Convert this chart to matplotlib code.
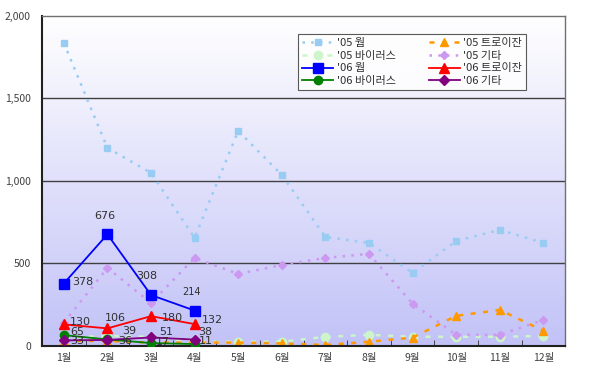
import numpy as np
import matplotlib
matplotlib.use("Agg")
import matplotlib.pyplot as plt

plt.rcParams['font.family'] = ['Noto Sans CJK KR', 'DejaVu Sans']

# months
months = ["1월", "2월", "3월", "4월", "5월", "6월", "7월", "8월", "9월", "10월", "11월", "12월"]

# 2005 series (full year)
worm_05 = [1836, 1200, 1048, 655, 1303, 1036, 660, 624, 442, 636, 703, 624]
trojan_05 = [30, 30, 20, 20, 20, 15, 5, 25, 50, 182, 218, 91]
virus_05 = [50, 60, 55, 25, 25, 25, 55, 67, 55, 55, 55, 60]
etc_05 = [140, 473, 260, 533, 436, 490, 533, 558, 255, 67, 67, 157]

# 2006 series (Jan - Apr)
worm_06 = [378, 676, 308, 214]
trojan_06 = [130, 106, 180, 132]
virus_06 = [65, 39, 17, 11]
etc_06 = [33, 36, 51, 38]

x_all = np.arange(1, 13)
x_06 = np.arange(1, 5)

fig = plt.figure(figsize=(6, 3.78), dpi=100)
ax = fig.add_axes([0.07, 0.085, 0.872, 0.873])

# gradient background
grad = np.linspace(0, 1, 256).reshape(-1, 1)
top = np.array([1.0, 1.0, 1.0])
bot = np.array([0.76, 0.76, 0.97])
img = top + (bot - top) * grad[:, :, None]
ax.imshow(img, extent=[0, 1, 0, 1], transform=ax.transAxes, aspect='auto', zorder=0)

for y in [500, 1000, 1500]:
    ax.axhline(y, color='#404040', lw=1.0, zorder=1)

ms = 5
ax.plot(x_all, worm_05, ls=(0, (1, 2.5)), lw=1.8, color='#99ccf2', marker='s', ms=ms,
        label="'05 웜", zorder=2)
ax.plot(x_all, virus_05, ls=(0, (2, 3)), lw=1.8, color='#ccf5cc', marker='o', ms=ms + 1,
        label="'05 바이러스", zorder=2)
ax.plot(x_all, trojan_05, ls=(0, (2, 3)), lw=1.8, color='#ff9900', marker='^', ms=ms + 1,
        label="'05 트로이잔", zorder=2)
ax.plot(x_all, etc_05, ls=(0, (1, 2.5)), lw=1.8, color='#cc99f0', marker='D', ms=ms - 0.5,
        label="'05 기타", zorder=2)

ax.plot(x_06, worm_06, color='#0000ff', lw=1.3, marker='s', ms=7, label="'06 웜", zorder=4)
ax.plot(x_06, trojan_06, color='#ff0000', lw=1.3, marker='^', ms=7, label="'06 트로이잔", zorder=4)
ax.plot(x_06, virus_06, color='#008000', lw=1.3, marker='o', ms=6, label="'06 바이러스", zorder=4)
ax.plot(x_06, etc_06, color='#800080', lw=1.3, marker='D', ms=5, label="'06 기타", zorder=4)

# data labels for 2006 (offsets in category / value units)
lab_kw = dict(color='#303030', zorder=5, family=['DejaVu Sans'], ha='center', va='center')
worm_off = [(0.44, 10), (-0.07, 112), (-0.09, 116), (-0.07, 113)]
trojan_off = [(0.37, 12), (0.18, 64), (0.5, -10), (0.4, 26)]
virus_off = [(0.3, 22), (0.5, 50), (0.28, 5), (0.25, 19)]
etc_off = [(0.3, -6), (0.4, -8), (0.35, 36), (0.25, 47)]
for vals, offs in [(worm_06, worm_off), (trojan_06, trojan_off),
                   (virus_06, virus_off), (etc_06, etc_off)]:
    for i, v in enumerate(vals):
        dx, dy = offs[i]
        size = 7 if (vals is worm_06 and i == 3) else 8
        ax.text(x_06[i] + dx, v + dy, str(v), fontsize=size, **lab_kw)

ax.set_xlim(0.5, 12.5)
ax.set_ylim(0, 2000)
ax.set_yticks([0, 500, 1000, 1500, 2000])
ax.set_yticklabels(['0', '500', '1,000', '1,500', '2,000'])
ax.set_xticks(x_all)
ax.set_xticklabels(months)
ax.set_xticks(np.arange(0.5, 13, 1), minor=True)
ax.tick_params(axis='x', which='major', length=0, pad=5, labelsize=7.5, colors='#404040')
ax.tick_params(axis='x', which='minor', direction='in', length=4, color='#303030')
ax.tick_params(axis='y', length=0, pad=8, labelsize=7.5, colors='#404040')

for s in ['left', 'bottom']:
    ax.spines[s].set_color('#202020')
    ax.spines[s].set_linewidth(1.5)
for s in ['top', 'right']:
    ax.spines[s].set_color('#707070')
    ax.spines[s].set_linewidth(1.0)

h, l = ax.get_legend_handles_labels()
order = [0, 1, 4, 6, 2, 3, 5, 7]
leg = ax.legend([h[i] for i in order], [l[i] for i in order], ncol=2,
                loc='upper left', bbox_to_anchor=(0.479, 0.962), fontsize=8,
                frameon=True, fancybox=False, edgecolor='#303030',
                handlelength=2.8, columnspacing=3.0, labelspacing=0.25,
                borderpad=0.35, handletextpad=0.3)
leg.get_frame().set_facecolor('white')
leg.get_frame().set_linewidth(0.8)
for t in leg.get_texts():
    t.set_color('#303030')

fig.savefig('out.png', dpi=100)
